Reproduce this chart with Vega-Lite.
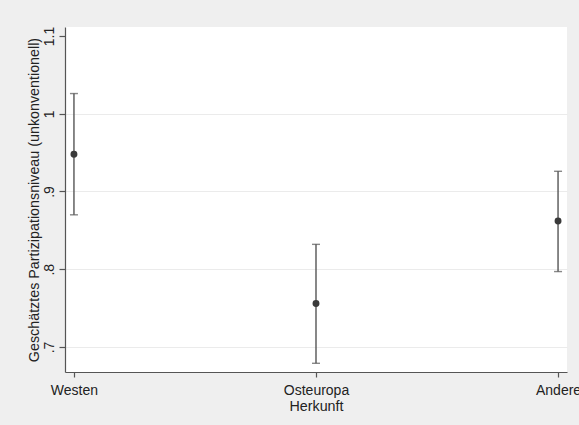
{
  "$schema": "https://vega.github.io/schema/vega-lite/v6.json",
  "width": 502,
  "height": 345,
  "autosize": {"type": "none"},
  "padding": {"left": 65, "top": 27, "right": 12, "bottom": 53},
  "background": "#efefef",
  "config": {
    "view": {"stroke": null, "fill": "white"},
    "font": "Liberation Sans",
    "axis": {
      "labelFont": "Liberation Sans",
      "titleFont": "Liberation Sans",
      "labelFontSize": 14,
      "titleFontSize": 14.3,
      "titleFontWeight": "normal",
      "labelColor": "#222",
      "titleColor": "#222",
      "domainColor": "#555",
      "tickColor": "#555",
      "domainWidth": 1.2,
      "tickWidth": 1.2
    }
  },
  "data": {
    "values": [
      {"Herkunft": "Westen", "est": 0.948, "lo": 0.870, "hi": 1.026},
      {"Herkunft": "Osteuropa", "est": 0.756, "lo": 0.679, "hi": 0.832},
      {"Herkunft": "Andere", "est": 0.862, "lo": 0.797, "hi": 0.926}
    ]
  },
  "encoding": {
    "x": {
      "field": "Herkunft",
      "type": "nominal",
      "sort": null,
      "scale": {"type": "point", "padding": 0.037},
      "axis": {
        "title": "Herkunft",
        "labelAngle": 0,
        "tickSize": 5,
        "labelPadding": 17,
        "labelBaseline": "alphabetic",
        "grid": false,
        "titleX": 251,
        "titleY": 38.5,
        "titleAlign": "center",
        "titleBaseline": "alphabetic"
      }
    }
  },
  "layer": [
    {
      "mark": {"type": "rule", "color": "#555", "strokeWidth": 1.4},
      "encoding": {
        "y": {
          "field": "lo",
          "type": "quantitative",
          "title": "Geschätztes Partizipationsniveau (unkonventionell)",
          "scale": {"domain": [0.6678, 1.1116], "nice": false, "zero": false},
          "axis": {
            "values": [0.7, 0.8, 0.9, 1, 1.1],
            "labelExpr": "datum.value < 1 ? replace(format(datum.value, '.1f'), '0.', '.') : format(datum.value, '~g')",
            "labelAngle": 270,
            "labelAlign": "center",
            "labelBaseline": "alphabetic",
            "tickSize": 6,
            "labelPadding": 5.5,
            "grid": true,
            "gridColor": "#ebebeb",
            "gridOpacity": {"condition": {"test": "datum.value > 1.05", "value": 0}, "value": 1},
            "titleAngle": 270,
            "titleX": -26.5,
            "titleY": 172.5,
            "titleAlign": "center",
            "titleBaseline": "alphabetic"
          }
        },
        "y2": {"field": "hi"}
      }
    },
    {
      "mark": {"type": "tick", "color": "#555", "thickness": 1.4, "size": 8, "orient": "horizontal"},
      "encoding": {
        "y": {"field": "lo", "type": "quantitative", "title": "Geschätztes Partizipationsniveau (unkonventionell)"}
      }
    },
    {
      "mark": {"type": "tick", "color": "#555", "thickness": 1.4, "size": 8, "orient": "horizontal"},
      "encoding": {
        "y": {"field": "hi", "type": "quantitative", "title": "Geschätztes Partizipationsniveau (unkonventionell)"}
      }
    },
    {
      "mark": {"type": "point", "filled": true, "color": "#3a3a3a", "opacity": 1, "size": 48},
      "encoding": {
        "y": {"field": "est", "type": "quantitative", "title": "Geschätztes Partizipationsniveau (unkonventionell)"}
      }
    }
  ]
}
